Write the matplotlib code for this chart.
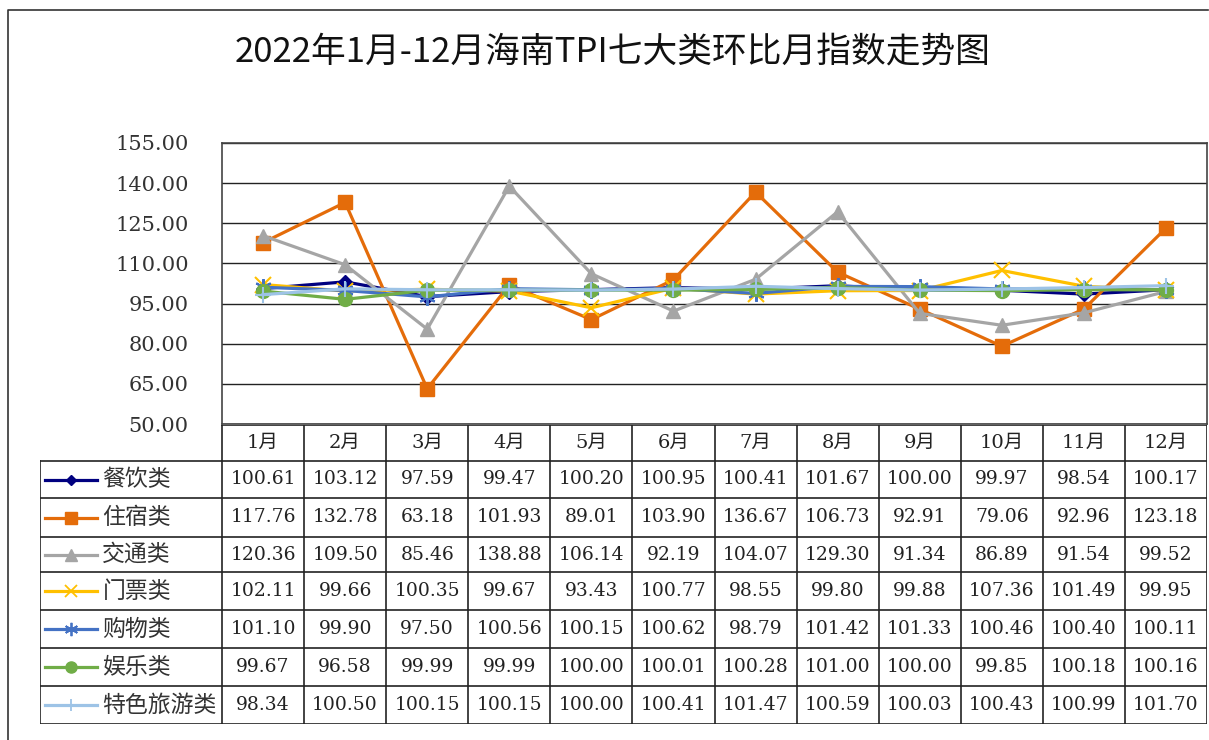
import matplotlib.pyplot as plt
import numpy as np

plt.rcParams['font.family'] = ['Noto Sans CJK SC', 'DejaVu Sans']

months = ['1月', '2月', '3月', '4月', '5月', '6月', '7月', '8月', '9月', '10月', '11月', '12月']
names = ['餐饮类', '住宿类', '交通类', '门票类', '购物类', '娱乐类', '特色旅游类']

canyin = [100.61, 103.12, 97.59, 99.47, 100.20, 100.95, 100.41, 101.67, 100.00, 99.97, 98.54, 100.17]
zhusu = [117.76, 132.78, 63.18, 101.93, 89.01, 103.90, 136.67, 106.73, 92.91, 79.06, 92.96, 123.18]
jiaotong = [120.36, 109.50, 85.46, 138.88, 106.14, 92.19, 104.07, 129.30, 91.34, 86.89, 91.54, 99.52]
menpiao = [102.11, 99.66, 100.35, 99.67, 93.43, 100.77, 98.55, 99.80, 99.88, 107.36, 101.49, 99.95]
gouwu = [101.10, 99.90, 97.50, 100.56, 100.15, 100.62, 98.79, 101.42, 101.33, 100.46, 100.40, 100.11]
yule = [99.67, 96.58, 99.99, 99.99, 100.00, 100.01, 100.28, 101.00, 100.00, 99.85, 100.18, 100.16]
tese = [98.34, 100.50, 100.15, 100.15, 100.00, 100.41, 101.47, 100.59, 100.03, 100.43, 100.99, 101.70]

series = [canyin, zhusu, jiaotong, menpiao, gouwu, yule, tese]
colors = ['#000080', '#E46C0A', '#A5A5A5', '#FFC000', '#4472C4', '#70AD47', '#9DC3E6']
markers = ['D', 's', '^', 'x', (6, 2, 0), 'o', '+']
msizes = [7, 10, 10, 11, 12, 10, 11]
thin = [False, False, False, True, True, False, True]

num_font = ['DejaVu Serif', 'Noto Sans CJK SC']

W, H = 1209, 740
fig = plt.figure(figsize=(W / 100, H / 100), dpi=100)

def px(x0, y0, x1, y1):
    return [x0 / W, 1 - y1 / H, (x1 - x0) / W, (y1 - y0) / H]

# outer frame
frame = fig.add_axes([0, 0, 1, 1])
frame.set_xlim(0, W)
frame.set_ylim(H, 0)
frame.axis('off')
frame.plot([8, 8, 1208], [740, 10, 10], color='#333333', lw=1.2)

fig.text(613 / W, 1 - 52 / H, '2022年1月-12月海南TPI七大类环比月指数走势图',
         ha='center', va='center', fontsize=25, color='#111111')

# line chart
ax = fig.add_axes(px(222, 143, 1207, 424))
x = np.arange(12) + 0.5
for vals, c, m, ms, t in zip(series, colors, markers, msizes, thin):
    ax.plot(x, vals, color=c, lw=2.3, marker=m, markersize=ms,
            markeredgewidth=1.5 if t else 1, markerfacecolor=c, markeredgecolor=c)
ax.set_xlim(0, 12)
ax.set_ylim(50, 155)
yt = np.arange(50, 156, 15)
ax.set_yticks(yt)
ax.set_yticklabels([f'{v:.2f}' for v in yt], fontsize=15, color='#333333', family=num_font)
ax.set_xticks([])
ax.tick_params(axis='y', length=0, pad=24)
ax.grid(axis='y', color='#222222', lw=1)
for s in ax.spines.values():
    s.set_color('#444444')
    s.set_linewidth(1.2)

# data table
tab = fig.add_axes(px(40, 425, 1207, 724))
lead = 182 / ((1207 - 222) / 12)
tab.set_xlim(-lead, 12)
row_edges = [0, 36, 73, 112, 147, 185, 223, 261, 299]
tab.set_ylim(299, 0)
tab.axis('off')
lc = '#222222'
tab.plot([0, 12], [0, 0], color=lc, lw=1.2)
for r in row_edges[1:]:
    tab.plot([-lead, 12], [r, r], color=lc, lw=1.2)
tab.plot([-lead, -lead], [36, 299], color=lc, lw=1.2)
for i in range(13):
    tab.plot([i, i], [0, 299], color=lc, lw=1.2)

for i, m in enumerate(months):
    tab.text(i + 0.5, 18, m, ha='center', va='center', fontsize=14, color='#222222', family=num_font)

for k, (name, vals) in enumerate(zip(names, series)):
    yc = (row_edges[k + 1] + row_edges[k + 2]) / 2
    tab.plot([-lead + 0.06, -lead + 0.38, -lead + 0.70], [yc, yc, yc], color=colors[k], lw=2.3,
             marker=markers[k], markevery=[1], markersize=msizes[k] * 0.8,
             markeredgewidth=1.3 if thin[k] else 1,
             markerfacecolor=colors[k], markeredgecolor=colors[k])
    tab.text(-lead + 0.76, yc, name, ha='left', va='center', fontsize=16.5, color='#333333')
    for i, v in enumerate(vals):
        tab.text(i + 0.5, yc, f'{v:.2f}', ha='center', va='center', fontsize=13.5,
                 color='#222222', family=num_font)

fig.savefig('out.png', dpi=100)
